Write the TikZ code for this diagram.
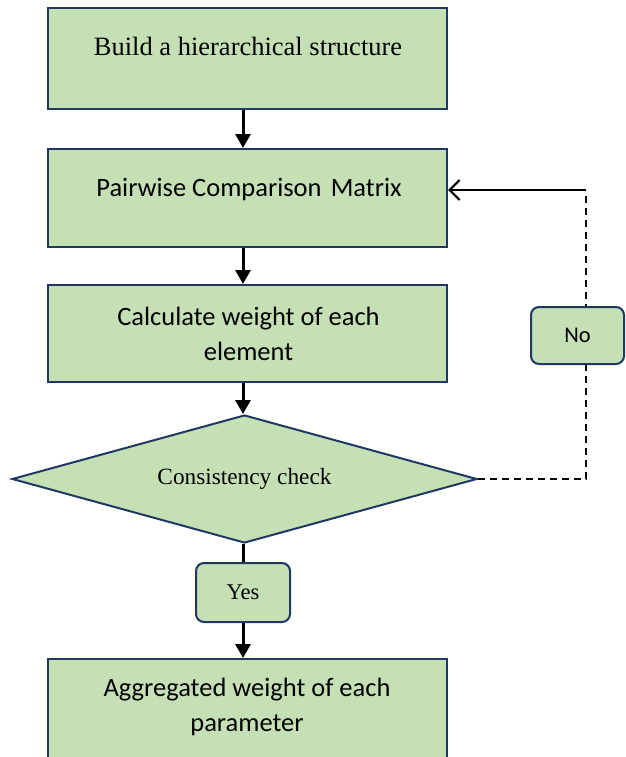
\documentclass[tikz,border=0pt]{standalone}
\usepackage{fontspec}
\setmainfont{Liberation Serif}
\newfontfamily\calib{Carlito}
\usetikzlibrary{arrows.meta,shapes.geometric}
\definecolor{boxfill}{HTML}{C5E0B4}
\definecolor{boxline}{HTML}{1F3864}
\begin{document}
\begin{tikzpicture}[x=1pt,y=-1pt,
  stepbox/.style={draw=boxline,line width=2pt,fill=boxfill,minimum width=399pt,inner sep=0pt,align=center},
  tagbox/.style={draw=boxline,line width=2pt,fill=boxfill,rounded corners=8pt,inner sep=0pt},
  serif/.style={font=\fontsize{26.5}{34}\selectfont},
  sans/.style={font=\calib\fontsize{26.5}{35}\selectfont},
  flow/.style={line width=3pt,-{Triangle[length=14pt,width=15pt]}},
  plain/.style={line width=3pt}]
\useasboundingbox (0,0) rectangle (625,757);
\begin{scope}
\clip (0,0) rectangle (625,757);
% process boxes
\node[stepbox,minimum height=101pt,anchor=north] (build) at (247.5,7) {};
\node[serif,anchor=base] (buildtxt) at (248,56) {Build a hierarchical structure};
\node[stepbox,minimum height=98pt,anchor=north] (pair) at (247.5,148) {};
\node[sans,anchor=base] (pairtxt) at (249,196) {Pairwise Comparison\hspace{0.12em} Matrix};
\node[stepbox,minimum height=97pt,anchor=north] (calc) at (247.5,284) {};
\node[sans,align=center] (calctxt) at (248.5,334) {Calculate weight of each\\element};
\node[diamond,draw=boxline,line width=2pt,fill=boxfill,aspect=3.63,minimum width=465pt,minimum height=128pt,inner sep=0pt,font=\fontsize{23.3}{28}\selectfont] (check) at (244.5,479) {Consistency check};
\node[tagbox,minimum width=94pt,minimum height=59pt,font=\fontsize{22.5}{27}\selectfont] (yes) at (243,592.5) {Yes};
\node[stepbox,minimum height=120pt,anchor=north] (agg) at (247.5,658) {};
\node[sans,align=center] (aggtxt) at (247,707) {Aggregated weight of each\\parameter};
% main flow
\draw[flow] (build.south -| 243,0) -- (pair.north -| 243,0);
\draw[flow] (pair.south -| 243,0) -- (calc.north -| 243,0);
\draw[flow] (calc.south -| 243,0) -- (check.north -| 243,0);
\draw[plain] (check.south -| 243,0) -- (yes.north);
\draw[flow] (yes.south) -- (agg.north -| 243,0);
% feedback loop
\coordinate (lowcorner) at (586,479);
\coordinate (topcorner) at (586,190);
\draw[line width=2.2pt,dash pattern=on 7pt off 5pt] (check.east) -- (lowcorner) -- (586,195);
\draw[line width=2.2pt,-{Straight Barb[length=10pt,width=20pt,line width=2.2pt]}] (topcorner) -- (pair.east |- topcorner);
\node[tagbox,minimum width=93pt,minimum height=57pt,font=\calib\fontsize{22.5}{26}\selectfont] (no) at (577.5,335.5) {No};
\end{scope}
\end{tikzpicture}
\end{document}
